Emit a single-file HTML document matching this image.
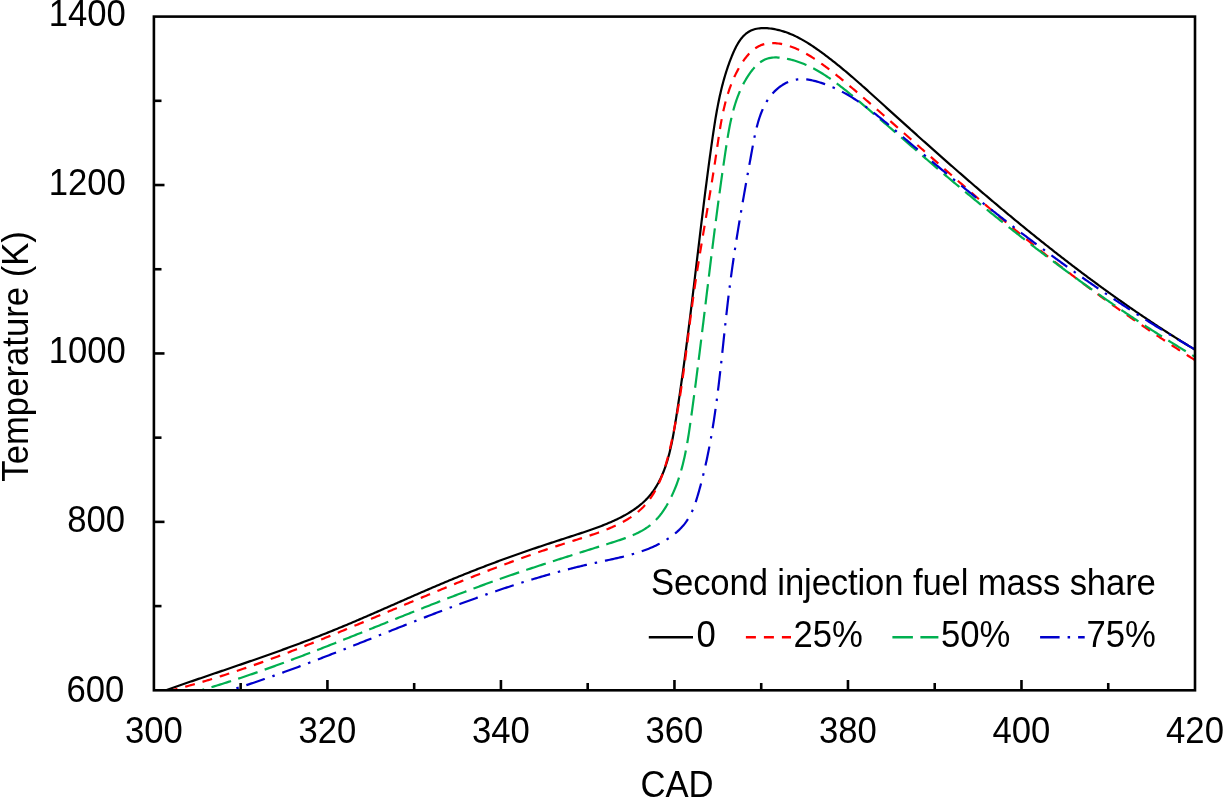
<!DOCTYPE html>
<html><head><meta charset="utf-8"><style>
html,body{margin:0;padding:0;background:#fff;width:1224px;height:798px;overflow:hidden}
svg{display:block}
text{font-family:"Liberation Sans",Arial,sans-serif;font-size:34.7px;fill:#000}
</style></head><body>
<svg width="1224" height="798" viewBox="0 0 1224 798">
<defs><clipPath id="pa"><rect x="153.9" y="16.6" width="1041.1" height="673.6999999999999"/></clipPath></defs>
<g clip-path="url(#pa)" fill="none" stroke-width="2.2" stroke-linejoin="round">
<path d="M149.66,695.93 L151.08,695.42 L152.49,694.92 L153.90,694.41 L155.31,693.91 L156.73,693.41 L158.14,692.91 L159.56,692.41 L160.97,691.91 L162.39,691.41 L163.80,690.91 L165.22,690.41 L166.63,689.92 L168.05,689.42 L169.46,688.93 L170.88,688.43 L172.30,687.94 L173.71,687.45 L175.13,686.96 L176.55,686.46 L177.96,685.97 L179.38,685.48 L180.80,684.99 L182.22,684.50 L183.64,684.01 L185.05,683.52 L186.47,683.04 L187.89,682.55 L189.31,682.06 L190.73,681.57 L192.15,681.09 L193.57,680.60 L194.98,680.12 L196.40,679.63 L197.82,679.14 L199.24,678.66 L200.66,678.17 L202.08,677.69 L203.50,677.20 L204.92,676.72 L206.34,676.24 L207.76,675.75 L209.18,675.27 L210.60,674.78 L212.02,674.30 L213.44,673.81 L214.86,673.33 L216.28,672.85 L217.70,672.36 L219.12,671.88 L220.54,671.39 L221.96,670.91 L223.38,670.42 L224.80,669.94 L226.21,669.45 L227.63,668.97 L229.05,668.48 L230.47,668.00 L231.89,667.51 L233.31,667.03 L234.73,666.54 L236.15,666.05 L237.57,665.56 L238.99,665.08 L240.40,664.59 L241.82,664.10 L243.24,663.61 L244.66,663.12 L246.08,662.63 L247.49,662.14 L248.91,661.65 L250.33,661.16 L251.74,660.67 L253.16,660.17 L254.58,659.68 L255.99,659.19 L257.41,658.69 L258.83,658.20 L260.24,657.70 L261.66,657.20 L263.07,656.70 L264.49,656.21 L265.90,655.71 L267.32,655.21 L268.73,654.71 L270.14,654.20 L271.56,653.70 L272.97,653.20 L274.38,652.69 L275.79,652.19 L277.21,651.68 L278.62,651.17 L280.03,650.67 L281.44,650.16 L282.85,649.65 L284.26,649.13 L285.67,648.62 L287.08,648.11 L288.49,647.59 L289.90,647.08 L291.30,646.56 L292.71,646.04 L294.12,645.52 L295.53,645.00 L296.93,644.48 L298.34,643.95 L299.74,643.43 L301.15,642.90 L302.55,642.37 L303.95,641.84 L305.36,641.31 L306.76,640.78 L308.16,640.25 L309.56,639.71 L310.96,639.18 L312.36,638.64 L313.76,638.10 L315.16,637.56 L316.56,637.02 L317.96,636.47 L319.36,635.93 L320.75,635.38 L322.15,634.83 L323.54,634.28 L324.94,633.73 L326.33,633.17 L327.72,632.62 L329.12,632.06 L330.51,631.50 L331.90,630.94 L333.29,630.37 L334.68,629.81 L336.07,629.24 L337.46,628.67 L338.84,628.10 L340.23,627.53 L341.62,626.96 L343.00,626.38 L344.39,625.80 L345.77,625.23 L347.15,624.65 L348.54,624.07 L349.92,623.48 L351.30,622.90 L352.68,622.32 L354.06,621.73 L355.44,621.14 L356.82,620.56 L358.20,619.97 L359.58,619.38 L360.96,618.78 L362.34,618.19 L363.72,617.60 L365.09,617.00 L366.47,616.41 L367.85,615.81 L369.22,615.22 L370.60,614.62 L371.98,614.02 L373.35,613.42 L374.73,612.82 L376.10,612.22 L377.47,611.62 L378.85,611.02 L380.22,610.42 L381.60,609.82 L382.97,609.22 L384.34,608.61 L385.72,608.01 L387.09,607.41 L388.46,606.80 L389.84,606.20 L391.21,605.60 L392.58,604.99 L393.96,604.39 L395.33,603.78 L396.70,603.18 L398.08,602.57 L399.45,601.97 L400.82,601.37 L402.19,600.76 L403.57,600.16 L404.94,599.55 L406.31,598.95 L407.69,598.35 L409.06,597.75 L410.43,597.14 L411.81,596.54 L413.18,595.94 L414.56,595.34 L415.93,594.74 L417.31,594.14 L418.68,593.54 L420.06,592.94 L421.43,592.34 L422.81,591.75 L424.19,591.15 L425.56,590.56 L426.94,589.96 L428.32,589.37 L429.69,588.77 L431.07,588.18 L432.45,587.59 L433.83,587.00 L435.21,586.41 L436.59,585.82 L437.97,585.24 L439.35,584.65 L440.73,584.07 L442.11,583.48 L443.50,582.90 L444.88,582.32 L446.26,581.74 L447.65,581.16 L449.03,580.59 L450.42,580.01 L451.80,579.44 L453.19,578.87 L454.58,578.30 L455.97,577.73 L457.36,577.16 L458.74,576.59 L460.13,576.03 L461.52,575.47 L462.92,574.90 L464.31,574.34 L465.70,573.79 L467.09,573.23 L468.48,572.67 L469.88,572.12 L471.27,571.57 L472.67,571.02 L474.06,570.47 L475.46,569.92 L476.86,569.37 L478.25,568.83 L479.65,568.28 L481.05,567.74 L482.45,567.20 L483.85,566.66 L485.25,566.12 L486.65,565.59 L488.05,565.05 L489.46,564.52 L490.86,563.99 L492.26,563.46 L493.67,562.93 L495.07,562.41 L496.48,561.88 L497.88,561.36 L499.29,560.84 L500.69,560.32 L502.10,559.80 L503.51,559.28 L504.92,558.77 L506.33,558.25 L507.74,557.74 L509.15,557.23 L510.56,556.72 L511.97,556.21 L513.38,555.71 L514.80,555.21 L516.21,554.71 L517.63,554.21 L519.04,553.71 L520.46,553.21 L521.87,552.72 L523.29,552.22 L524.71,551.73 L526.12,551.24 L527.54,550.76 L528.96,550.27 L530.38,549.78 L531.80,549.30 L533.22,548.82 L534.64,548.34 L536.06,547.86 L537.48,547.38 L538.91,546.90 L540.33,546.43 L541.75,545.95 L543.18,545.48 L544.60,545.01 L546.02,544.53 L547.45,544.06 L548.87,543.59 L550.30,543.12 L551.72,542.66 L553.15,542.19 L554.57,541.72 L556.00,541.26 L557.42,540.79 L558.85,540.33 L560.28,539.86 L561.70,539.40 L563.13,538.93 L564.56,538.47 L565.98,538.01 L567.41,537.54 L568.84,537.08 L570.26,536.62 L571.69,536.16 L573.12,535.69 L574.54,535.23 L575.97,534.77 L577.40,534.30 L578.82,533.84 L580.25,533.37 L581.67,532.90 L583.10,532.43 L584.52,531.95 L585.94,531.48 L587.36,530.99 L588.78,530.51 L590.20,530.02 L591.62,529.53 L593.03,529.03 L594.44,528.52 L595.85,528.01 L597.26,527.50 L598.67,526.98 L600.07,526.45 L601.47,525.91 L602.87,525.37 L604.27,524.82 L605.66,524.26 L607.05,523.69 L608.43,523.11 L609.81,522.53 L611.19,521.93 L612.56,521.33 L613.93,520.71 L615.29,520.08 L616.65,519.44 L618.00,518.79 L619.34,518.13 L620.68,517.45 L622.01,516.76 L623.34,516.05 L624.66,515.34 L625.96,514.60 L627.26,513.85 L628.55,513.09 L629.83,512.31 L631.10,511.51 L632.36,510.69 L633.61,509.86 L634.84,509.01 L636.06,508.13 L637.27,507.24 L638.46,506.33 L639.64,505.40 L640.80,504.45 L641.94,503.48 L643.06,502.48 L644.16,501.46 L645.24,500.42 L646.30,499.36 L647.34,498.28 L648.35,497.17 L649.34,496.04 L650.30,494.89 L651.24,493.72 L652.15,492.53 L653.04,491.32 L653.90,490.09 L654.74,488.85 L655.55,487.59 L656.34,486.31 L657.11,485.02 L657.86,483.72 L658.58,482.41 L659.28,481.08 L659.95,479.74 L660.61,478.39 L661.25,477.03 L661.86,475.67 L662.46,474.29 L663.04,472.91 L663.60,471.51 L664.14,470.12 L664.66,468.71 L665.17,467.30 L665.66,465.88 L666.14,464.46 L666.60,463.03 L667.04,461.60 L667.48,460.16 L667.90,458.72 L668.30,457.28 L668.70,455.83 L669.08,454.38 L669.45,452.93 L669.81,451.47 L670.16,450.01 L670.50,448.55 L670.83,447.09 L671.16,445.63 L671.47,444.16 L671.78,442.69 L672.08,441.22 L672.37,439.75 L672.65,438.28 L672.93,436.80 L673.21,435.33 L673.47,433.85 L673.74,432.38 L673.99,430.90 L674.25,429.42 L674.50,427.94 L674.74,426.46 L674.99,424.98 L675.23,423.50 L675.46,422.02 L675.70,420.54 L675.94,419.06 L676.17,417.57 L676.40,416.09 L676.63,414.61 L676.86,413.13 L677.09,411.65 L677.32,410.16 L677.55,408.68 L677.78,407.20 L678.00,405.72 L678.23,404.23 L678.45,402.75 L678.68,401.27 L678.90,399.78 L679.12,398.30 L679.34,396.81 L679.56,395.33 L679.78,393.85 L680.00,392.36 L680.21,390.88 L680.43,389.39 L680.64,387.91 L680.86,386.43 L681.07,384.94 L681.29,383.46 L681.50,381.97 L681.71,380.49 L681.92,379.00 L682.13,377.52 L682.34,376.03 L682.55,374.54 L682.75,373.06 L682.96,371.57 L683.16,370.09 L683.37,368.60 L683.57,367.12 L683.78,365.63 L683.98,364.14 L684.18,362.66 L684.38,361.17 L684.59,359.68 L684.79,358.20 L684.98,356.71 L685.18,355.22 L685.38,353.74 L685.58,352.25 L685.78,350.76 L685.97,349.28 L686.17,347.79 L686.36,346.30 L686.56,344.81 L686.75,343.33 L686.94,341.84 L687.14,340.35 L687.33,338.86 L687.52,337.38 L687.71,335.89 L687.90,334.40 L688.09,332.91 L688.28,331.42 L688.47,329.94 L688.66,328.45 L688.85,326.96 L689.04,325.47 L689.22,323.98 L689.41,322.50 L689.60,321.01 L689.78,319.52 L689.97,318.03 L690.15,316.54 L690.34,315.05 L690.52,313.56 L690.71,312.08 L690.89,310.59 L691.07,309.10 L691.26,307.61 L691.44,306.12 L691.62,304.63 L691.80,303.14 L691.98,301.65 L692.16,300.16 L692.35,298.68 L692.53,297.19 L692.71,295.70 L692.89,294.21 L693.07,292.72 L693.25,291.23 L693.43,289.74 L693.61,288.25 L693.79,286.76 L693.96,285.27 L694.14,283.78 L694.32,282.29 L694.50,280.81 L694.68,279.32 L694.86,277.83 L695.03,276.34 L695.21,274.85 L695.39,273.36 L695.57,271.87 L695.75,270.38 L695.92,268.89 L696.10,267.40 L696.28,265.91 L696.46,264.42 L696.63,262.93 L696.81,261.44 L696.99,259.95 L697.17,258.46 L697.34,256.97 L697.52,255.48 L697.70,254.00 L697.88,252.51 L698.05,251.02 L698.23,249.53 L698.41,248.04 L698.59,246.55 L698.76,245.06 L698.94,243.57 L699.12,242.08 L699.30,240.59 L699.48,239.10 L699.66,237.61 L699.83,236.12 L700.01,234.63 L700.19,233.14 L700.37,231.65 L700.55,230.17 L700.73,228.68 L700.91,227.19 L701.09,225.70 L701.27,224.21 L701.45,222.72 L701.63,221.23 L701.82,219.74 L702.00,218.25 L702.18,216.76 L702.36,215.28 L702.54,213.79 L702.73,212.30 L702.91,210.81 L703.09,209.32 L703.28,207.83 L703.46,206.34 L703.65,204.85 L703.83,203.37 L704.02,201.88 L704.20,200.39 L704.39,198.90 L704.58,197.41 L704.76,195.92 L704.95,194.44 L705.14,192.95 L705.33,191.46 L705.52,189.97 L705.71,188.48 L705.90,187.00 L706.09,185.51 L706.28,184.02 L706.47,182.53 L706.67,181.04 L706.86,179.56 L707.05,178.07 L707.25,176.58 L707.44,175.10 L707.64,173.61 L707.83,172.12 L708.03,170.63 L708.23,169.15 L708.43,167.66 L708.62,166.17 L708.82,164.69 L709.02,163.20 L709.22,161.71 L709.43,160.23 L709.63,158.74 L709.83,157.25 L710.03,155.77 L710.24,154.28 L710.44,152.80 L710.65,151.31 L710.86,149.82 L711.06,148.34 L711.27,146.85 L711.48,145.37 L711.69,143.88 L711.90,142.40 L712.11,140.91 L712.32,139.43 L712.54,137.94 L712.75,136.46 L712.97,134.97 L713.19,133.49 L713.40,132.01 L713.63,130.52 L713.85,129.04 L714.07,127.56 L714.30,126.07 L714.53,124.59 L714.77,123.11 L715.00,121.63 L715.24,120.15 L715.48,118.67 L715.73,117.19 L715.98,115.71 L716.24,114.23 L716.50,112.75 L716.76,111.28 L717.03,109.80 L717.30,108.33 L717.58,106.85 L717.86,105.38 L718.15,103.91 L718.44,102.44 L718.74,100.97 L719.04,99.50 L719.36,98.03 L719.67,96.56 L720.00,95.10 L720.33,93.64 L720.66,92.17 L721.01,90.71 L721.36,89.25 L721.71,87.80 L722.08,86.34 L722.45,84.89 L722.83,83.44 L723.22,81.99 L723.62,80.54 L724.02,79.10 L724.44,77.66 L724.86,76.22 L725.29,74.78 L725.73,73.35 L726.18,71.92 L726.63,70.49 L727.10,69.06 L727.58,67.64 L728.06,66.22 L728.56,64.80 L729.06,63.39 L729.58,61.98 L730.10,60.58 L730.64,59.18 L731.18,57.78 L731.74,56.39 L732.31,55.00 L732.89,53.61 L733.48,52.24 L734.10,50.87 L734.73,49.51 L735.38,48.16 L736.06,46.82 L736.77,45.50 L737.50,44.19 L738.27,42.90 L739.08,41.64 L739.92,40.39 L740.80,39.18 L741.73,38.00 L742.70,36.86 L743.73,35.77 L744.81,34.73 L745.94,33.74 L747.12,32.82 L748.36,31.98 L749.65,31.21 L750.99,30.53 L752.37,29.95 L753.78,29.45 L755.23,29.05 L756.69,28.72 L758.17,28.47 L759.66,28.29 L761.16,28.17 L762.65,28.11 L764.15,28.10 L765.65,28.14 L767.15,28.22 L768.65,28.35 L770.14,28.51 L771.63,28.71 L773.11,28.94 L774.58,29.20 L776.06,29.49 L777.52,29.81 L778.98,30.16 L780.43,30.54 L781.88,30.94 L783.31,31.38 L784.74,31.83 L786.16,32.32 L787.57,32.83 L788.97,33.36 L790.36,33.92 L791.75,34.50 L793.12,35.10 L794.49,35.72 L795.84,36.37 L797.19,37.03 L798.52,37.71 L799.85,38.41 L801.17,39.12 L802.48,39.85 L803.78,40.60 L805.07,41.36 L806.36,42.14 L807.64,42.92 L808.90,43.72 L810.17,44.53 L811.42,45.35 L812.67,46.18 L813.91,47.02 L815.15,47.87 L816.38,48.73 L817.61,49.59 L818.83,50.46 L820.05,51.34 L821.27,52.22 L822.48,53.10 L823.68,53.99 L824.89,54.89 L826.09,55.79 L827.28,56.69 L828.48,57.60 L829.67,58.51 L830.85,59.43 L832.04,60.35 L833.22,61.28 L834.39,62.21 L835.57,63.14 L836.74,64.08 L837.91,65.02 L839.07,65.96 L840.24,66.91 L841.40,67.86 L842.55,68.82 L843.71,69.78 L844.86,70.74 L846.01,71.70 L847.16,72.67 L848.30,73.64 L849.44,74.61 L850.58,75.58 L851.72,76.56 L852.86,77.54 L853.99,78.52 L855.12,79.50 L856.25,80.49 L857.38,81.48 L858.51,82.47 L859.63,83.46 L860.76,84.45 L861.88,85.45 L863.00,86.45 L864.12,87.44 L865.24,88.44 L866.36,89.44 L867.47,90.44 L868.59,91.45 L869.70,92.45 L870.82,93.46 L871.93,94.46 L873.04,95.47 L874.16,96.47 L875.27,97.48 L876.38,98.49 L877.49,99.50 L878.60,100.51 L879.71,101.51 L880.82,102.52 L881.93,103.53 L883.04,104.54 L884.15,105.55 L885.26,106.56 L886.37,107.56 L887.48,108.57 L888.60,109.58 L889.71,110.59 L890.82,111.59 L891.93,112.60 L893.04,113.61 L894.15,114.62 L895.27,115.62 L896.38,116.63 L897.49,117.63 L898.60,118.64 L899.72,119.64 L900.83,120.65 L901.94,121.65 L903.06,122.66 L904.17,123.66 L905.29,124.67 L906.40,125.67 L907.52,126.68 L908.63,127.68 L909.75,128.68 L910.86,129.69 L911.98,130.69 L913.09,131.69 L914.21,132.69 L915.33,133.69 L916.44,134.69 L917.56,135.70 L918.68,136.70 L919.80,137.70 L920.91,138.70 L922.03,139.70 L923.15,140.70 L924.27,141.69 L925.39,142.69 L926.51,143.69 L927.63,144.69 L928.75,145.69 L929.87,146.68 L930.99,147.68 L932.11,148.68 L933.23,149.67 L934.35,150.67 L935.48,151.66 L936.60,152.66 L937.72,153.65 L938.85,154.65 L939.97,155.64 L941.09,156.63 L942.22,157.63 L943.34,158.62 L944.47,159.61 L945.59,160.60 L946.72,161.59 L947.85,162.58 L948.97,163.57 L950.10,164.56 L951.23,165.55 L952.36,166.54 L953.48,167.53 L954.61,168.52 L955.74,169.51 L956.87,170.49 L958.00,171.48 L959.13,172.46 L960.26,173.45 L961.40,174.43 L962.53,175.42 L963.66,176.40 L964.79,177.38 L965.93,178.37 L967.06,179.35 L968.19,180.33 L969.33,181.31 L970.46,182.29 L971.60,183.27 L972.74,184.25 L973.87,185.23 L975.01,186.21 L976.15,187.19 L977.29,188.16 L978.42,189.14 L979.56,190.12 L980.70,191.09 L981.84,192.07 L982.98,193.04 L984.13,194.01 L985.27,194.99 L986.41,195.96 L987.55,196.93 L988.70,197.90 L989.84,198.87 L990.98,199.84 L992.13,200.81 L993.28,201.78 L994.42,202.75 L995.57,203.71 L996.72,204.68 L997.86,205.64 L999.01,206.61 L1000.16,207.57 L1001.31,208.54 L1002.46,209.50 L1003.61,210.46 L1004.76,211.42 L1005.91,212.38 L1007.07,213.34 L1008.22,214.30 L1009.37,215.26 L1010.53,216.22 L1011.68,217.18 L1012.84,218.13 L1014.00,219.09 L1015.15,220.04 L1016.31,221.00 L1017.47,221.95 L1018.63,222.90 L1019.79,223.85 L1020.95,224.81 L1022.11,225.76 L1023.27,226.70 L1024.43,227.65 L1025.59,228.60 L1026.76,229.55 L1027.92,230.49 L1029.09,231.44 L1030.25,232.38 L1031.42,233.33 L1032.58,234.27 L1033.75,235.21 L1034.92,236.15 L1036.09,237.09 L1037.26,238.03 L1038.43,238.97 L1039.60,239.91 L1040.77,240.84 L1041.94,241.78 L1043.12,242.71 L1044.29,243.65 L1045.46,244.58 L1046.64,245.51 L1047.82,246.44 L1048.99,247.37 L1050.17,248.30 L1051.35,249.23 L1052.53,250.16 L1053.71,251.09 L1054.89,252.01 L1056.07,252.94 L1057.25,253.86 L1058.43,254.78 L1059.62,255.70 L1060.80,256.63 L1061.99,257.54 L1063.17,258.46 L1064.36,259.38 L1065.55,260.30 L1066.73,261.21 L1067.92,262.13 L1069.11,263.04 L1070.30,263.95 L1071.49,264.87 L1072.69,265.78 L1073.88,266.69 L1075.07,267.59 L1076.27,268.50 L1077.46,269.41 L1078.66,270.31 L1079.85,271.22 L1081.05,272.12 L1082.25,273.02 L1083.45,273.92 L1084.65,274.82 L1085.85,275.72 L1087.05,276.62 L1088.26,277.52 L1089.46,278.41 L1090.66,279.30 L1091.87,280.20 L1093.08,281.09 L1094.28,281.98 L1095.49,282.87 L1096.70,283.76 L1097.91,284.65 L1099.12,285.53 L1100.33,286.42 L1101.54,287.30 L1102.75,288.18 L1103.97,289.06 L1105.18,289.94 L1106.40,290.82 L1107.62,291.70 L1108.83,292.58 L1110.05,293.45 L1111.27,294.33 L1112.49,295.20 L1113.71,296.07 L1114.93,296.94 L1116.16,297.81 L1117.38,298.68 L1118.60,299.54 L1119.83,300.41 L1121.06,301.27 L1122.28,302.13 L1123.51,303.00 L1124.74,303.86 L1125.97,304.71 L1127.20,305.57 L1128.43,306.43 L1129.66,307.28 L1130.90,308.14 L1132.13,308.99 L1133.37,309.84 L1134.61,310.69 L1135.84,311.54 L1137.08,312.38 L1138.32,313.23 L1139.56,314.07 L1140.80,314.91 L1142.04,315.75 L1143.29,316.59 L1144.53,317.43 L1145.78,318.27 L1147.02,319.10 L1148.27,319.94 L1149.52,320.77 L1150.76,321.60 L1152.01,322.43 L1153.27,323.26 L1154.52,324.08 L1155.77,324.91 L1157.02,325.73 L1158.28,326.56 L1159.53,327.38 L1160.79,328.20 L1162.05,329.01 L1163.31,329.83 L1164.57,330.64 L1165.83,331.46 L1167.09,332.27 L1168.35,333.08 L1169.61,333.89 L1170.88,334.70 L1172.14,335.50 L1173.41,336.30 L1174.68,337.11 L1175.94,337.91 L1177.21,338.71 L1178.48,339.50 L1179.76,340.30 L1181.03,341.10 L1182.30,341.89 L1183.58,342.68 L1184.85,343.47 L1186.13,344.26 L1187.40,345.04 L1188.68,345.83 L1189.96,346.61 L1191.24,347.39 L1192.52,348.17 L1193.81,348.95 L1195.09,349.73 L1196.37,350.50 L1197.66,351.28 L1198.95,352.05 L1200.23,352.82 L1201.52,353.58 L1202.81,354.35 L1204.10,355.12 L1205.20,355.77" stroke="#000000" />
<path d="M150.25,695.41 L151.71,695.08 L153.18,694.75 L154.64,694.42 L156.10,694.08 L157.56,693.74 L159.02,693.40 L160.48,693.06 L161.94,692.71 L163.40,692.36 L164.86,692.00 L166.31,691.65 L167.77,691.29 L169.23,690.93 L170.68,690.56 L172.14,690.19 L173.59,689.82 L175.04,689.45 L176.49,689.07 L177.94,688.69 L179.39,688.31 L180.84,687.92 L182.29,687.54 L183.74,687.14 L185.19,686.75 L186.64,686.36 L188.08,685.96 L189.53,685.56 L190.97,685.15 L192.42,684.75 L193.86,684.34 L195.30,683.93 L196.74,683.51 L198.19,683.10 L199.63,682.68 L201.07,682.26 L202.50,681.83 L203.94,681.41 L205.38,680.98 L206.82,680.55 L208.25,680.11 L209.69,679.68 L211.12,679.24 L212.56,678.80 L213.99,678.36 L215.42,677.91 L216.85,677.47 L218.29,677.02 L219.72,676.57 L221.15,676.11 L222.58,675.66 L224.00,675.20 L225.43,674.74 L226.86,674.28 L228.28,673.81 L229.71,673.35 L231.14,672.88 L232.56,672.41 L233.98,671.94 L235.41,671.46 L236.83,670.99 L238.25,670.51 L239.67,670.03 L241.09,669.55 L242.51,669.06 L243.93,668.58 L245.35,668.09 L246.77,667.60 L248.18,667.11 L249.60,666.62 L251.02,666.12 L252.43,665.62 L253.85,665.13 L255.26,664.63 L256.68,664.12 L258.09,663.62 L259.50,663.12 L260.91,662.61 L262.32,662.10 L263.73,661.59 L265.14,661.08 L266.55,660.57 L267.96,660.05 L269.37,659.53 L270.78,659.02 L272.19,658.50 L273.59,657.98 L275.00,657.45 L276.41,656.93 L277.81,656.41 L279.21,655.88 L280.62,655.35 L282.02,654.82 L283.43,654.29 L284.83,653.76 L286.23,653.23 L287.63,652.69 L289.03,652.16 L290.43,651.62 L291.83,651.08 L293.23,650.54 L294.63,650.00 L296.03,649.46 L297.43,648.92 L298.83,648.37 L300.22,647.83 L301.62,647.28 L303.02,646.73 L304.41,646.18 L305.81,645.63 L307.20,645.08 L308.60,644.53 L309.99,643.98 L311.39,643.42 L312.78,642.87 L314.17,642.31 L315.57,641.76 L316.96,641.20 L318.35,640.64 L319.74,640.08 L321.13,639.52 L322.53,638.96 L323.92,638.40 L325.31,637.83 L326.70,637.27 L328.09,636.71 L329.48,636.14 L330.87,635.57 L332.25,635.01 L333.64,634.44 L335.03,633.87 L336.42,633.30 L337.81,632.73 L339.19,632.16 L340.58,631.59 L341.97,631.02 L343.35,630.45 L344.74,629.88 L346.13,629.30 L347.51,628.73 L348.90,628.15 L350.28,627.58 L351.67,627.00 L353.05,626.43 L354.44,625.85 L355.82,625.27 L357.21,624.70 L358.59,624.12 L359.98,623.54 L361.36,622.96 L362.74,622.38 L364.13,621.81 L365.51,621.23 L366.89,620.65 L368.28,620.07 L369.66,619.49 L371.04,618.90 L372.43,618.32 L373.81,617.74 L375.19,617.16 L376.58,616.58 L377.96,616.00 L379.34,615.42 L380.72,614.83 L382.11,614.25 L383.49,613.67 L384.87,613.09 L386.25,612.50 L387.63,611.92 L389.02,611.34 L390.40,610.76 L391.78,610.17 L393.16,609.59 L394.55,609.01 L395.93,608.42 L397.31,607.84 L398.69,607.26 L400.07,606.68 L401.46,606.09 L402.84,605.51 L404.22,604.93 L405.60,604.35 L406.99,603.77 L408.37,603.18 L409.75,602.60 L411.13,602.02 L412.52,601.44 L413.90,600.86 L415.28,600.28 L416.67,599.70 L418.05,599.12 L419.43,598.54 L420.82,597.96 L422.20,597.38 L423.58,596.80 L424.97,596.22 L426.35,595.65 L427.74,595.07 L429.12,594.49 L430.51,593.92 L431.89,593.34 L433.28,592.76 L434.66,592.19 L436.05,591.62 L437.43,591.04 L438.82,590.47 L440.21,589.90 L441.59,589.32 L442.98,588.75 L444.37,588.18 L445.75,587.61 L447.14,587.04 L448.53,586.47 L449.92,585.90 L451.31,585.34 L452.70,584.77 L454.08,584.20 L455.47,583.64 L456.86,583.07 L458.25,582.51 L459.64,581.95 L461.04,581.39 L462.43,580.82 L463.82,580.26 L465.21,579.70 L466.60,579.15 L467.99,578.59 L469.39,578.03 L470.78,577.48 L472.17,576.92 L473.57,576.37 L474.96,575.82 L476.36,575.27 L477.75,574.71 L479.15,574.17 L480.55,573.62 L481.94,573.07 L483.34,572.52 L484.74,571.98 L486.13,571.44 L487.53,570.89 L488.93,570.35 L490.33,569.81 L491.73,569.27 L493.13,568.74 L494.53,568.20 L495.93,567.67 L497.34,567.13 L498.74,566.60 L500.14,566.07 L501.55,565.54 L502.95,565.01 L504.35,564.48 L505.76,563.96 L507.16,563.44 L508.57,562.91 L509.98,562.39 L511.38,561.87 L512.79,561.35 L514.20,560.84 L515.61,560.32 L517.02,559.81 L518.43,559.30 L519.84,558.78 L521.25,558.28 L522.66,557.77 L524.07,557.26 L525.49,556.76 L526.90,556.25 L528.31,555.75 L529.73,555.25 L531.14,554.76 L532.56,554.26 L533.97,553.76 L535.39,553.27 L536.81,552.78 L538.22,552.29 L539.64,551.80 L541.06,551.32 L542.48,550.83 L543.90,550.35 L545.32,549.87 L546.74,549.39 L548.16,548.91 L549.59,548.43 L551.01,547.96 L552.43,547.48 L553.86,547.01 L555.28,546.54 L556.71,546.08 L558.13,545.61 L559.56,545.15 L560.99,544.69 L562.41,544.22 L563.84,543.77 L565.27,543.31 L566.70,542.85 L568.13,542.40 L569.56,541.95 L570.99,541.50 L572.42,541.05 L573.86,540.60 L575.29,540.16 L576.72,539.71 L578.15,539.26 L579.58,538.81 L581.01,538.36 L582.44,537.91 L583.87,537.45 L585.30,537.00 L586.73,536.54 L588.15,536.07 L589.58,535.61 L591.00,535.13 L592.43,534.66 L593.85,534.18 L595.27,533.69 L596.68,533.19 L598.10,532.69 L599.51,532.19 L600.92,531.67 L602.32,531.15 L603.72,530.62 L605.12,530.08 L606.52,529.53 L607.91,528.96 L609.30,528.39 L610.68,527.81 L612.06,527.22 L613.43,526.61 L614.80,525.99 L616.16,525.36 L617.51,524.71 L618.86,524.05 L620.19,523.38 L621.53,522.69 L622.85,521.98 L624.16,521.25 L625.47,520.51 L626.76,519.75 L628.04,518.97 L629.31,518.17 L630.57,517.36 L631.81,516.52 L633.04,515.66 L634.26,514.78 L635.46,513.88 L636.64,512.95 L637.80,512.01 L638.95,511.04 L640.07,510.05 L641.18,509.03 L642.26,507.99 L643.32,506.93 L644.35,505.85 L645.36,504.74 L646.35,503.60 L647.30,502.45 L648.24,501.28 L649.15,500.08 L650.03,498.87 L650.89,497.64 L651.73,496.40 L652.54,495.14 L653.33,493.86 L654.10,492.57 L654.84,491.27 L655.56,489.96 L656.27,488.63 L656.95,487.30 L657.62,485.95 L658.26,484.60 L658.89,483.23 L659.50,481.86 L660.09,480.49 L660.67,479.10 L661.23,477.71 L661.77,476.31 L662.30,474.91 L662.82,473.50 L663.32,472.09 L663.81,470.67 L664.28,469.25 L664.75,467.82 L665.20,466.39 L665.64,464.96 L666.07,463.52 L666.49,462.08 L666.90,460.64 L667.30,459.19 L667.70,457.74 L668.08,456.29 L668.46,454.84 L668.83,453.39 L669.19,451.93 L669.55,450.47 L669.89,449.02 L670.24,447.56 L670.58,446.09 L670.91,444.63 L671.24,443.17 L671.56,441.70 L671.88,440.24 L672.20,438.77 L672.51,437.30 L672.82,435.84 L673.13,434.37 L673.43,432.90 L673.73,431.43 L674.03,429.96 L674.32,428.49 L674.61,427.02 L674.90,425.54 L675.18,424.07 L675.46,422.60 L675.74,421.12 L676.01,419.65 L676.29,418.17 L676.55,416.70 L676.82,415.22 L677.08,413.75 L677.35,412.27 L677.60,410.79 L677.86,409.31 L678.11,407.83 L678.36,406.36 L678.61,404.88 L678.85,403.40 L679.10,401.92 L679.34,400.44 L679.57,398.95 L679.81,397.47 L680.04,395.99 L680.27,394.51 L680.50,393.03 L680.73,391.54 L680.95,390.06 L681.18,388.58 L681.40,387.09 L681.62,385.61 L681.83,384.13 L682.05,382.64 L682.26,381.16 L682.47,379.67 L682.68,378.19 L682.89,376.70 L683.10,375.22 L683.31,373.73 L683.51,372.24 L683.71,370.76 L683.91,369.27 L684.12,367.78 L684.31,366.30 L684.51,364.81 L684.71,363.32 L684.90,361.84 L685.10,360.35 L685.29,358.86 L685.49,357.37 L685.68,355.89 L685.87,354.40 L686.06,352.91 L686.25,351.42 L686.44,349.94 L686.63,348.45 L686.82,346.96 L687.01,345.47 L687.20,343.98 L687.38,342.49 L687.57,341.01 L687.76,339.52 L687.94,338.03 L688.13,336.54 L688.32,335.05 L688.51,333.56 L688.69,332.08 L688.88,330.59 L689.07,329.10 L689.26,327.61 L689.44,326.12 L689.63,324.64 L689.82,323.15 L690.01,321.66 L690.20,320.17 L690.39,318.68 L690.59,317.20 L690.78,315.71 L690.97,314.22 L691.17,312.73 L691.36,311.25 L691.56,309.76 L691.75,308.27 L691.95,306.79 L692.15,305.30 L692.35,303.81 L692.55,302.33 L692.76,300.84 L692.96,299.35 L693.17,297.87 L693.38,296.38 L693.59,294.90 L693.80,293.41 L694.01,291.93 L694.22,290.44 L694.44,288.96 L694.66,287.47 L694.87,285.99 L695.09,284.51 L695.32,283.02 L695.54,281.54 L695.76,280.06 L695.99,278.57 L696.21,277.09 L696.44,275.61 L696.67,274.13 L696.90,272.64 L697.13,271.16 L697.36,269.68 L697.59,268.20 L697.83,266.72 L698.06,265.23 L698.30,263.75 L698.54,262.27 L698.77,260.79 L699.01,259.31 L699.25,257.83 L699.49,256.35 L699.73,254.87 L699.97,253.39 L700.22,251.91 L700.46,250.43 L700.70,248.95 L700.95,247.47 L701.19,245.99 L701.44,244.51 L701.68,243.03 L701.93,241.55 L702.18,240.07 L702.42,238.59 L702.67,237.11 L702.92,235.63 L703.17,234.15 L703.41,232.67 L703.66,231.19 L703.91,229.71 L704.16,228.23 L704.41,226.75 L704.66,225.27 L704.91,223.80 L705.16,222.32 L705.41,220.84 L705.66,219.36 L705.91,217.88 L706.16,216.40 L706.41,214.92 L706.65,213.44 L706.90,211.96 L707.15,210.48 L707.40,209.00 L707.65,207.52 L707.90,206.05 L708.15,204.57 L708.39,203.09 L708.64,201.61 L708.89,200.13 L709.13,198.65 L709.38,197.17 L709.63,195.69 L709.87,194.21 L710.12,192.73 L710.36,191.25 L710.60,189.77 L710.85,188.29 L711.09,186.81 L711.33,185.33 L711.57,183.85 L711.81,182.37 L712.05,180.89 L712.29,179.40 L712.53,177.92 L712.76,176.44 L713.00,174.96 L713.23,173.48 L713.47,172.00 L713.70,170.52 L713.93,169.03 L714.16,167.55 L714.39,166.07 L714.62,164.59 L714.85,163.11 L715.08,161.62 L715.30,160.14 L715.53,158.66 L715.75,157.17 L715.97,155.69 L716.19,154.21 L716.41,152.72 L716.63,151.24 L716.85,149.75 L717.06,148.27 L717.28,146.78 L717.49,145.30 L717.71,143.82 L717.93,142.33 L718.15,140.85 L718.37,139.36 L718.59,137.88 L718.81,136.40 L719.04,134.91 L719.27,133.43 L719.50,131.95 L719.74,130.47 L719.98,128.99 L720.22,127.51 L720.47,126.03 L720.72,124.55 L720.98,123.07 L721.25,121.60 L721.52,120.12 L721.80,118.65 L722.08,117.18 L722.37,115.70 L722.67,114.23 L722.98,112.77 L723.30,111.30 L723.62,109.83 L723.95,108.37 L724.30,106.91 L724.65,105.45 L725.01,104.00 L725.38,102.55 L725.77,101.10 L726.16,99.65 L726.57,98.20 L726.99,96.76 L727.42,95.33 L727.86,93.89 L728.32,92.47 L728.79,91.04 L729.27,89.62 L729.77,88.21 L730.28,86.80 L730.81,85.39 L731.35,83.99 L731.90,82.60 L732.47,81.21 L733.06,79.83 L733.67,78.46 L734.28,77.09 L734.92,75.73 L735.57,74.38 L736.24,73.04 L736.93,71.71 L737.63,70.38 L738.35,69.06 L739.08,67.76 L739.84,66.46 L740.61,65.17 L741.40,63.90 L742.21,62.64 L743.04,61.39 L743.90,60.16 L744.78,58.94 L745.69,57.75 L746.62,56.58 L747.59,55.43 L748.58,54.30 L749.61,53.21 L750.67,52.15 L751.77,51.13 L752.90,50.15 L754.07,49.21 L755.28,48.32 L756.53,47.49 L757.82,46.72 L759.14,46.02 L760.50,45.39 L761.90,44.84 L763.32,44.36 L764.77,43.98 L766.24,43.66 L767.72,43.43 L769.21,43.26 L770.71,43.16 L772.20,43.12 L773.70,43.14 L775.20,43.21 L776.70,43.33 L778.19,43.49 L779.67,43.70 L781.15,43.95 L782.62,44.24 L784.09,44.57 L785.54,44.93 L786.99,45.33 L788.43,45.76 L789.86,46.22 L791.27,46.71 L792.68,47.23 L794.08,47.77 L795.46,48.34 L796.84,48.94 L798.21,49.56 L799.56,50.20 L800.91,50.86 L802.24,51.55 L803.57,52.25 L804.89,52.97 L806.19,53.70 L807.49,54.45 L808.78,55.22 L810.06,56.00 L811.34,56.79 L812.60,57.59 L813.86,58.41 L815.11,59.24 L816.36,60.08 L817.59,60.93 L818.83,61.78 L820.05,62.65 L821.27,63.52 L822.49,64.40 L823.70,65.28 L824.90,66.18 L826.11,67.07 L827.30,67.97 L828.50,68.88 L829.69,69.79 L830.88,70.71 L832.07,71.62 L833.25,72.55 L834.43,73.48 L835.60,74.41 L836.78,75.34 L837.95,76.28 L839.11,77.22 L840.28,78.17 L841.44,79.12 L842.60,80.07 L843.76,81.02 L844.91,81.98 L846.06,82.94 L847.21,83.90 L848.36,84.87 L849.51,85.83 L850.66,86.80 L851.80,87.77 L852.94,88.74 L854.09,89.71 L855.23,90.69 L856.37,91.66 L857.51,92.64 L858.65,93.61 L859.79,94.59 L860.92,95.57 L862.06,96.55 L863.20,97.52 L864.33,98.50 L865.47,99.48 L866.60,100.46 L867.74,101.44 L868.87,102.43 L870.01,103.41 L871.14,104.39 L872.27,105.37 L873.41,106.36 L874.54,107.34 L875.67,108.32 L876.80,109.31 L877.93,110.29 L879.06,111.28 L880.19,112.27 L881.32,113.25 L882.45,114.24 L883.58,115.23 L884.71,116.22 L885.84,117.20 L886.97,118.19 L888.10,119.18 L889.22,120.17 L890.35,121.16 L891.48,122.15 L892.60,123.14 L893.73,124.13 L894.86,125.12 L895.98,126.11 L897.11,127.10 L898.23,128.10 L899.36,129.09 L900.48,130.08 L901.61,131.07 L902.73,132.07 L903.86,133.06 L904.98,134.05 L906.11,135.04 L907.23,136.04 L908.35,137.03 L909.48,138.02 L910.60,139.02 L911.73,140.01 L912.85,141.01 L913.97,142.00 L915.10,142.99 L916.22,143.99 L917.34,144.98 L918.46,145.98 L919.59,146.97 L920.71,147.97 L921.83,148.96 L922.96,149.95 L924.08,150.95 L925.20,151.94 L926.33,152.94 L927.45,153.93 L928.57,154.93 L929.70,155.92 L930.82,156.91 L931.94,157.91 L933.07,158.90 L934.19,159.90 L935.31,160.89 L936.44,161.88 L937.56,162.88 L938.68,163.87 L939.81,164.86 L940.93,165.86 L942.06,166.85 L943.18,167.84 L944.30,168.84 L945.43,169.83 L946.55,170.82 L947.68,171.81 L948.80,172.80 L949.93,173.80 L951.06,174.79 L952.18,175.78 L953.31,176.77 L954.44,177.76 L955.56,178.75 L956.69,179.74 L957.82,180.73 L958.94,181.72 L960.07,182.71 L961.20,183.69 L962.33,184.68 L963.46,185.67 L964.59,186.66 L965.72,187.64 L966.85,188.63 L967.98,189.62 L969.11,190.60 L970.24,191.59 L971.37,192.57 L972.50,193.56 L973.63,194.54 L974.77,195.53 L975.90,196.51 L977.03,197.49 L978.17,198.47 L979.30,199.45 L980.44,200.43 L981.57,201.41 L982.71,202.39 L983.84,203.37 L984.98,204.35 L986.12,205.33 L987.26,206.31 L988.39,207.28 L989.53,208.26 L990.67,209.24 L991.81,210.21 L992.95,211.19 L994.09,212.16 L995.24,213.13 L996.38,214.10 L997.52,215.08 L998.66,216.05 L999.81,217.02 L1000.95,217.99 L1002.10,218.95 L1003.24,219.92 L1004.39,220.89 L1005.54,221.86 L1006.69,222.82 L1007.83,223.79 L1008.98,224.75 L1010.13,225.71 L1011.28,226.68 L1012.44,227.64 L1013.59,228.60 L1014.74,229.56 L1015.89,230.52 L1017.05,231.47 L1018.20,232.43 L1019.36,233.39 L1020.52,234.34 L1021.67,235.30 L1022.83,236.25 L1023.99,237.20 L1025.15,238.15 L1026.31,239.10 L1027.47,240.05 L1028.63,241.00 L1029.80,241.95 L1030.96,242.89 L1032.13,243.84 L1033.29,244.78 L1034.46,245.73 L1035.63,246.67 L1036.79,247.61 L1037.96,248.55 L1039.13,249.49 L1040.30,250.43 L1041.48,251.36 L1042.65,252.30 L1043.82,253.23 L1045.00,254.16 L1046.17,255.10 L1047.35,256.03 L1048.53,256.96 L1049.70,257.88 L1050.88,258.81 L1052.06,259.74 L1053.24,260.66 L1054.43,261.59 L1055.61,262.51 L1056.79,263.43 L1057.98,264.35 L1059.16,265.27 L1060.35,266.19 L1061.54,267.10 L1062.72,268.02 L1063.91,268.93 L1065.10,269.85 L1066.29,270.76 L1067.48,271.67 L1068.68,272.58 L1069.87,273.49 L1071.06,274.40 L1072.26,275.31 L1073.45,276.21 L1074.65,277.12 L1075.85,278.02 L1077.05,278.92 L1078.25,279.82 L1079.45,280.72 L1080.65,281.62 L1081.85,282.52 L1083.05,283.42 L1084.25,284.31 L1085.46,285.21 L1086.66,286.10 L1087.87,286.99 L1089.08,287.88 L1090.28,288.77 L1091.49,289.66 L1092.70,290.55 L1093.91,291.44 L1095.12,292.32 L1096.33,293.21 L1097.54,294.09 L1098.76,294.97 L1099.97,295.86 L1101.19,296.74 L1102.40,297.61 L1103.62,298.49 L1104.83,299.37 L1106.05,300.25 L1107.27,301.12 L1108.49,301.99 L1109.71,302.87 L1110.93,303.74 L1112.15,304.61 L1113.37,305.48 L1114.60,306.35 L1115.82,307.21 L1117.05,308.08 L1118.27,308.94 L1119.50,309.81 L1120.72,310.67 L1121.95,311.53 L1123.18,312.39 L1124.41,313.25 L1125.64,314.11 L1126.87,314.97 L1128.10,315.83 L1129.33,316.68 L1130.57,317.54 L1131.80,318.39 L1133.04,319.24 L1134.27,320.09 L1135.51,320.94 L1136.74,321.79 L1137.98,322.64 L1139.22,323.49 L1140.46,324.33 L1141.70,325.18 L1142.94,326.02 L1144.18,326.86 L1145.42,327.71 L1146.66,328.55 L1147.90,329.39 L1149.15,330.22 L1150.39,331.06 L1151.64,331.90 L1152.88,332.73 L1154.13,333.57 L1155.38,334.40 L1156.62,335.24 L1157.87,336.07 L1159.12,336.90 L1160.37,337.73 L1161.62,338.55 L1162.87,339.38 L1164.12,340.21 L1165.38,341.03 L1166.63,341.86 L1167.88,342.68 L1169.14,343.50 L1170.39,344.33 L1171.65,345.15 L1172.91,345.97 L1174.16,346.78 L1175.42,347.60 L1176.68,348.42 L1177.94,349.23 L1179.20,350.05 L1180.46,350.86 L1181.72,351.67 L1182.98,352.48 L1184.24,353.29 L1185.51,354.10 L1186.77,354.91 L1188.03,355.72 L1189.30,356.53 L1190.56,357.33 L1191.83,358.14 L1193.10,358.94 L1194.36,359.74 L1195.63,360.54 L1196.90,361.35 L1198.17,362.15 L1199.44,362.94 L1200.71,363.74 L1201.98,364.54 L1203.25,365.33 L1204.52,366.13 L1204.84,366.33" stroke="#FF0000" stroke-dasharray="10 8"/>
<path d="M184.58,694.93 L186.02,694.54 L187.47,694.14 L188.92,693.74 L190.36,693.34 L191.81,692.93 L193.25,692.53 L194.69,692.12 L196.14,691.71 L197.58,691.29 L199.02,690.88 L200.46,690.46 L201.90,690.04 L203.34,689.62 L204.78,689.20 L206.22,688.77 L207.65,688.34 L209.09,687.91 L210.53,687.48 L211.96,687.04 L213.40,686.61 L214.83,686.17 L216.27,685.73 L217.70,685.28 L219.13,684.84 L220.56,684.39 L221.99,683.94 L223.42,683.49 L224.85,683.04 L226.28,682.58 L227.71,682.13 L229.14,681.67 L230.57,681.21 L232.00,680.74 L233.42,680.28 L234.85,679.81 L236.27,679.35 L237.70,678.88 L239.12,678.40 L240.55,677.93 L241.97,677.46 L243.39,676.98 L244.81,676.50 L246.23,676.02 L247.65,675.54 L249.07,675.06 L250.49,674.57 L251.91,674.09 L253.33,673.60 L254.75,673.11 L256.17,672.62 L257.58,672.13 L259.00,671.63 L260.41,671.14 L261.83,670.64 L263.24,670.14 L264.66,669.64 L266.07,669.14 L267.49,668.64 L268.90,668.13 L270.31,667.63 L271.72,667.12 L273.13,666.61 L274.54,666.10 L275.95,665.59 L277.36,665.08 L278.77,664.56 L280.18,664.05 L281.59,663.53 L283.00,663.02 L284.41,662.50 L285.81,661.98 L287.22,661.46 L288.63,660.94 L290.03,660.41 L291.44,659.89 L292.84,659.36 L294.25,658.84 L295.65,658.31 L297.06,657.78 L298.46,657.25 L299.86,656.72 L301.27,656.19 L302.67,655.66 L304.07,655.12 L305.47,654.59 L306.87,654.05 L308.27,653.52 L309.67,652.98 L311.07,652.44 L312.47,651.91 L313.87,651.37 L315.27,650.83 L316.67,650.28 L318.07,649.74 L319.47,649.20 L320.87,648.66 L322.27,648.11 L323.66,647.57 L325.06,647.02 L326.46,646.48 L327.85,645.93 L329.25,645.38 L330.65,644.83 L332.04,644.29 L333.44,643.74 L334.83,643.19 L336.23,642.64 L337.63,642.09 L339.02,641.53 L340.42,640.98 L341.81,640.43 L343.20,639.88 L344.60,639.32 L345.99,638.77 L347.39,638.22 L348.78,637.66 L350.17,637.11 L351.57,636.55 L352.96,636.00 L354.35,635.44 L355.75,634.88 L357.14,634.33 L358.53,633.77 L359.92,633.21 L361.32,632.66 L362.71,632.10 L364.10,631.54 L365.49,630.98 L366.89,630.42 L368.28,629.87 L369.67,629.31 L371.06,628.75 L372.46,628.19 L373.85,627.63 L375.24,627.07 L376.63,626.51 L378.02,625.95 L379.42,625.40 L380.81,624.84 L382.20,624.28 L383.59,623.72 L384.98,623.16 L386.38,622.60 L387.77,622.04 L389.16,621.48 L390.55,620.93 L391.94,620.37 L393.34,619.81 L394.73,619.25 L396.12,618.69 L397.51,618.13 L398.91,617.58 L400.30,617.02 L401.69,616.46 L403.08,615.91 L404.48,615.35 L405.87,614.79 L407.26,614.24 L408.66,613.68 L410.05,613.13 L411.44,612.57 L412.84,612.02 L414.23,611.46 L415.63,610.91 L417.02,610.36 L418.41,609.80 L419.81,609.25 L421.20,608.70 L422.60,608.15 L423.99,607.60 L425.39,607.05 L426.78,606.50 L428.18,605.95 L429.58,605.40 L430.97,604.85 L432.37,604.30 L433.77,603.75 L435.16,603.21 L436.56,602.66 L437.96,602.12 L439.35,601.57 L440.75,601.03 L442.15,600.49 L443.55,599.94 L444.95,599.40 L446.35,598.86 L447.75,598.32 L449.15,597.78 L450.55,597.24 L451.95,596.71 L453.35,596.17 L454.75,595.63 L456.15,595.10 L457.55,594.56 L458.95,594.03 L460.36,593.50 L461.76,592.97 L463.16,592.44 L464.56,591.91 L465.97,591.38 L467.37,590.85 L468.78,590.32 L470.18,589.80 L471.59,589.27 L472.99,588.75 L474.40,588.23 L475.81,587.71 L477.21,587.19 L478.62,586.67 L480.03,586.15 L481.44,585.63 L482.84,585.12 L484.25,584.60 L485.66,584.09 L487.07,583.58 L488.48,583.07 L489.89,582.56 L491.31,582.05 L492.72,581.54 L494.13,581.04 L495.54,580.53 L496.96,580.03 L498.37,579.53 L499.78,579.03 L501.20,578.53 L502.61,578.03 L504.03,577.54 L505.45,577.05 L506.86,576.55 L508.28,576.06 L509.70,575.57 L511.12,575.08 L512.54,574.60 L513.95,574.11 L515.37,573.63 L516.79,573.14 L518.21,572.66 L519.63,572.18 L521.06,571.70 L522.48,571.22 L523.90,570.74 L525.32,570.27 L526.75,569.79 L528.17,569.32 L529.59,568.85 L531.02,568.37 L532.44,567.90 L533.86,567.43 L535.29,566.96 L536.71,566.50 L538.14,566.03 L539.57,565.56 L540.99,565.10 L542.42,564.63 L543.84,564.17 L545.27,563.71 L546.70,563.24 L548.13,562.78 L549.55,562.32 L550.98,561.86 L552.41,561.40 L553.84,560.95 L555.27,560.49 L556.69,560.03 L558.12,559.57 L559.55,559.12 L560.98,558.66 L562.41,558.21 L563.84,557.75 L565.27,557.30 L566.70,556.84 L568.13,556.39 L569.56,555.94 L570.99,555.48 L572.42,555.03 L573.85,554.58 L575.28,554.13 L576.71,553.68 L578.14,553.23 L579.57,552.77 L581.00,552.32 L582.43,551.87 L583.86,551.42 L585.29,550.97 L586.72,550.52 L588.16,550.07 L589.59,549.62 L591.02,549.17 L592.45,548.72 L593.88,548.27 L595.31,547.82 L596.74,547.37 L598.17,546.92 L599.60,546.47 L601.03,546.02 L602.46,545.57 L603.89,545.12 L605.32,544.66 L606.75,544.21 L608.18,543.76 L609.61,543.31 L611.05,542.86 L612.48,542.40 L613.90,541.95 L615.33,541.49 L616.76,541.03 L618.19,540.57 L619.61,540.10 L621.03,539.62 L622.45,539.13 L623.87,538.64 L625.28,538.13 L626.69,537.62 L628.09,537.09 L629.49,536.55 L630.88,535.99 L632.27,535.41 L633.65,534.82 L635.02,534.21 L636.38,533.59 L637.73,532.93 L639.07,532.26 L640.40,531.57 L641.72,530.85 L643.02,530.10 L644.30,529.33 L645.57,528.53 L646.82,527.70 L648.05,526.84 L649.26,525.95 L650.44,525.02 L651.60,524.07 L652.73,523.09 L653.84,522.07 L654.91,521.03 L655.96,519.96 L656.98,518.86 L657.98,517.74 L658.95,516.59 L659.90,515.43 L660.82,514.25 L661.72,513.05 L662.59,511.83 L663.45,510.59 L664.28,509.35 L665.09,508.09 L665.88,506.81 L666.66,505.53 L667.41,504.23 L668.15,502.92 L668.87,501.61 L669.57,500.28 L670.26,498.95 L670.93,497.61 L671.59,496.26 L672.23,494.90 L672.85,493.54 L673.47,492.17 L674.06,490.79 L674.65,489.41 L675.21,488.02 L675.77,486.63 L676.31,485.23 L676.84,483.83 L677.35,482.42 L677.85,481.00 L678.34,479.59 L678.82,478.16 L679.28,476.74 L679.73,475.31 L680.17,473.87 L680.60,472.44 L681.02,470.99 L681.43,469.55 L681.82,468.10 L682.21,466.65 L682.59,465.20 L682.95,463.75 L683.31,462.29 L683.66,460.83 L684.00,459.37 L684.33,457.91 L684.65,456.44 L684.96,454.98 L685.27,453.51 L685.57,452.04 L685.86,450.57 L686.14,449.09 L686.42,447.62 L686.69,446.14 L686.96,444.67 L687.22,443.19 L687.47,441.71 L687.72,440.23 L687.97,438.75 L688.21,437.27 L688.45,435.79 L688.68,434.31 L688.91,432.83 L689.13,431.34 L689.35,429.86 L689.57,428.38 L689.79,426.89 L690.00,425.41 L690.21,423.92 L690.42,422.44 L690.63,420.95 L690.84,419.47 L691.05,417.98 L691.25,416.49 L691.46,415.01 L691.66,413.52 L691.86,412.04 L692.07,410.55 L692.27,409.06 L692.47,407.58 L692.67,406.09 L692.87,404.61 L693.07,403.12 L693.27,401.63 L693.47,400.15 L693.67,398.66 L693.87,397.17 L694.07,395.68 L694.26,394.20 L694.46,392.71 L694.66,391.22 L694.85,389.74 L695.05,388.25 L695.24,386.76 L695.44,385.27 L695.63,383.79 L695.82,382.30 L696.01,380.81 L696.21,379.32 L696.40,377.84 L696.59,376.35 L696.78,374.86 L696.97,373.37 L697.16,371.88 L697.35,370.40 L697.54,368.91 L697.73,367.42 L697.92,365.93 L698.11,364.44 L698.29,362.96 L698.48,361.47 L698.67,359.98 L698.86,358.49 L699.04,357.00 L699.23,355.51 L699.41,354.03 L699.60,352.54 L699.78,351.05 L699.97,349.56 L700.15,348.07 L700.34,346.58 L700.52,345.09 L700.71,343.61 L700.89,342.12 L701.07,340.63 L701.26,339.14 L701.44,337.65 L701.62,336.16 L701.81,334.67 L701.99,333.18 L702.17,331.70 L702.35,330.21 L702.53,328.72 L702.72,327.23 L702.90,325.74 L703.08,324.25 L703.26,322.76 L703.44,321.27 L703.62,319.78 L703.80,318.29 L703.98,316.81 L704.17,315.32 L704.35,313.83 L704.53,312.34 L704.71,310.85 L704.89,309.36 L705.07,307.87 L705.25,306.38 L705.43,304.89 L705.61,303.40 L705.79,301.91 L705.97,300.43 L706.15,298.94 L706.33,297.45 L706.51,295.96 L706.69,294.47 L706.87,292.98 L707.05,291.49 L707.23,290.00 L707.42,288.51 L707.60,287.02 L707.78,285.53 L707.96,284.05 L708.14,282.56 L708.32,281.07 L708.50,279.58 L708.68,278.09 L708.86,276.60 L709.05,275.11 L709.23,273.62 L709.41,272.13 L709.59,270.65 L709.77,269.16 L709.96,267.67 L710.14,266.18 L710.32,264.69 L710.51,263.20 L710.69,261.71 L710.87,260.22 L711.06,258.73 L711.24,257.25 L711.43,255.76 L711.61,254.27 L711.80,252.78 L711.98,251.29 L712.17,249.80 L712.35,248.32 L712.54,246.83 L712.72,245.34 L712.91,243.85 L713.10,242.36 L713.29,240.87 L713.47,239.39 L713.66,237.90 L713.85,236.41 L714.04,234.92 L714.23,233.43 L714.42,231.94 L714.61,230.46 L714.80,228.97 L714.99,227.48 L715.18,225.99 L715.37,224.51 L715.56,223.02 L715.76,221.53 L715.95,220.04 L716.14,218.56 L716.34,217.07 L716.53,215.58 L716.73,214.09 L716.92,212.61 L717.12,211.12 L717.31,209.63 L717.51,208.15 L717.71,206.66 L717.91,205.17 L718.10,203.68 L718.30,202.20 L718.50,200.71 L718.70,199.22 L718.90,197.74 L719.11,196.25 L719.31,194.77 L719.51,193.28 L719.71,191.79 L719.92,190.31 L720.12,188.82 L720.33,187.33 L720.53,185.85 L720.74,184.36 L720.94,182.88 L721.15,181.39 L721.36,179.91 L721.57,178.42 L721.78,176.94 L721.99,175.45 L722.20,173.97 L722.41,172.48 L722.62,171.00 L722.84,169.51 L723.05,168.03 L723.26,166.54 L723.48,165.06 L723.70,163.57 L723.91,162.09 L724.13,160.60 L724.35,159.12 L724.57,157.64 L724.79,156.15 L725.01,154.67 L725.23,153.18 L725.45,151.70 L725.67,150.22 L725.90,148.73 L726.12,147.25 L726.35,145.77 L726.58,144.29 L726.81,142.80 L727.04,141.32 L727.28,139.84 L727.52,138.36 L727.76,136.88 L728.01,135.40 L728.26,133.92 L728.52,132.44 L728.78,130.97 L729.05,129.49 L729.33,128.02 L729.61,126.55 L729.90,125.07 L730.20,123.60 L730.50,122.13 L730.82,120.67 L731.14,119.20 L731.47,117.74 L731.82,116.28 L732.17,114.82 L732.53,113.37 L732.91,111.91 L733.29,110.47 L733.69,109.02 L734.10,107.58 L734.52,106.14 L734.96,104.70 L735.41,103.27 L735.88,101.85 L736.36,100.42 L736.85,99.01 L737.36,97.60 L737.89,96.19 L738.43,94.79 L738.99,93.40 L739.57,92.02 L740.16,90.64 L740.77,89.27 L741.40,87.91 L742.05,86.56 L742.72,85.21 L743.41,83.88 L744.11,82.56 L744.84,81.25 L745.59,79.94 L746.35,78.66 L747.14,77.38 L747.95,76.11 L748.77,74.86 L749.62,73.63 L750.50,72.41 L751.39,71.20 L752.32,70.02 L753.27,68.87 L754.26,67.74 L755.28,66.64 L756.34,65.57 L757.43,64.55 L758.57,63.57 L759.74,62.64 L760.96,61.76 L762.22,60.95 L763.53,60.22 L764.88,59.56 L766.27,58.99 L767.69,58.51 L769.14,58.13 L770.61,57.85 L772.10,57.65 L773.59,57.52 L775.09,57.46 L776.59,57.47 L778.09,57.53 L779.58,57.64 L781.08,57.80 L782.56,57.99 L784.05,58.22 L785.52,58.47 L787.00,58.76 L788.46,59.07 L789.93,59.40 L791.38,59.76 L792.83,60.15 L794.27,60.56 L795.71,61.00 L797.14,61.46 L798.56,61.94 L799.97,62.44 L801.38,62.97 L802.77,63.51 L804.16,64.08 L805.54,64.66 L806.92,65.27 L808.28,65.89 L809.64,66.54 L810.98,67.19 L812.32,67.87 L813.65,68.56 L814.98,69.27 L816.29,69.99 L817.60,70.73 L818.90,71.48 L820.19,72.24 L821.47,73.02 L822.75,73.80 L824.02,74.60 L825.28,75.42 L826.53,76.24 L827.78,77.07 L829.02,77.91 L830.26,78.76 L831.49,79.62 L832.71,80.49 L833.93,81.37 L835.14,82.25 L836.35,83.14 L837.55,84.04 L838.75,84.94 L839.94,85.85 L841.13,86.77 L842.31,87.69 L843.49,88.62 L844.66,89.55 L845.84,90.48 L847.01,91.42 L848.17,92.37 L849.34,93.31 L850.50,94.26 L851.66,95.22 L852.81,96.17 L853.97,97.13 L855.12,98.09 L856.27,99.05 L857.43,100.01 L858.58,100.97 L859.73,101.93 L860.87,102.90 L862.02,103.86 L863.17,104.83 L864.32,105.79 L865.47,106.76 L866.61,107.73 L867.76,108.70 L868.90,109.67 L870.05,110.64 L871.19,111.61 L872.33,112.58 L873.47,113.55 L874.62,114.52 L875.76,115.50 L876.90,116.47 L878.04,117.44 L879.18,118.42 L880.32,119.39 L881.46,120.37 L882.60,121.34 L883.74,122.32 L884.88,123.30 L886.01,124.27 L887.15,125.25 L888.29,126.23 L889.43,127.21 L890.56,128.19 L891.70,129.17 L892.84,130.14 L893.97,131.12 L895.11,132.10 L896.25,133.08 L897.38,134.06 L898.52,135.04 L899.65,136.02 L900.79,137.00 L901.92,137.98 L903.06,138.96 L904.19,139.94 L905.33,140.92 L906.47,141.90 L907.60,142.88 L908.74,143.86 L909.87,144.84 L911.01,145.82 L912.14,146.80 L913.28,147.78 L914.41,148.76 L915.55,149.74 L916.69,150.72 L917.82,151.70 L918.96,152.68 L920.10,153.66 L921.23,154.64 L922.37,155.62 L923.51,156.59 L924.65,157.57 L925.78,158.55 L926.92,159.53 L928.06,160.50 L929.20,161.48 L930.34,162.45 L931.48,163.43 L932.62,164.40 L933.76,165.37 L934.90,166.35 L936.05,167.32 L937.19,168.29 L938.33,169.26 L939.47,170.24 L940.62,171.21 L941.76,172.18 L942.91,173.14 L944.05,174.11 L945.20,175.08 L946.34,176.05 L947.49,177.02 L948.64,177.98 L949.79,178.95 L950.93,179.91 L952.08,180.88 L953.23,181.84 L954.38,182.80 L955.53,183.77 L956.68,184.73 L957.84,185.69 L958.99,186.65 L960.14,187.61 L961.29,188.57 L962.45,189.53 L963.60,190.49 L964.76,191.44 L965.91,192.40 L967.07,193.36 L968.22,194.31 L969.38,195.27 L970.54,196.22 L971.69,197.18 L972.85,198.13 L974.01,199.08 L975.17,200.03 L976.33,200.98 L977.49,201.94 L978.65,202.88 L979.81,203.83 L980.98,204.78 L982.14,205.73 L983.30,206.68 L984.47,207.62 L985.63,208.57 L986.80,209.51 L987.96,210.46 L989.13,211.40 L990.29,212.34 L991.46,213.29 L992.63,214.23 L993.80,215.17 L994.97,216.11 L996.14,217.05 L997.31,217.98 L998.48,218.92 L999.65,219.86 L1000.82,220.79 L1001.99,221.73 L1003.17,222.66 L1004.34,223.60 L1005.52,224.53 L1006.69,225.46 L1007.87,226.40 L1009.04,227.33 L1010.22,228.26 L1011.40,229.19 L1012.58,230.11 L1013.75,231.04 L1014.93,231.97 L1016.11,232.89 L1017.29,233.82 L1018.48,234.74 L1019.66,235.67 L1020.84,236.59 L1022.02,237.51 L1023.21,238.43 L1024.39,239.35 L1025.58,240.27 L1026.76,241.19 L1027.95,242.11 L1029.13,243.03 L1030.32,243.94 L1031.51,244.86 L1032.70,245.77 L1033.89,246.69 L1035.08,247.60 L1036.27,248.51 L1037.46,249.42 L1038.65,250.33 L1039.85,251.24 L1041.04,252.15 L1042.23,253.06 L1043.43,253.97 L1044.63,254.87 L1045.82,255.78 L1047.02,256.68 L1048.22,257.58 L1049.41,258.49 L1050.61,259.39 L1051.81,260.29 L1053.01,261.19 L1054.21,262.09 L1055.42,262.98 L1056.62,263.88 L1057.82,264.78 L1059.03,265.67 L1060.23,266.57 L1061.43,267.46 L1062.64,268.35 L1063.85,269.24 L1065.05,270.13 L1066.26,271.02 L1067.47,271.91 L1068.68,272.80 L1069.89,273.68 L1071.10,274.57 L1072.31,275.45 L1073.53,276.34 L1074.74,277.22 L1075.95,278.10 L1077.17,278.98 L1078.38,279.86 L1079.60,280.74 L1080.81,281.62 L1082.03,282.49 L1083.25,283.37 L1084.47,284.24 L1085.69,285.12 L1086.91,285.99 L1088.13,286.86 L1089.35,287.73 L1090.57,288.60 L1091.80,289.47 L1093.02,290.34 L1094.24,291.20 L1095.47,292.07 L1096.70,292.93 L1097.92,293.79 L1099.15,294.66 L1100.38,295.52 L1101.61,296.38 L1102.84,297.23 L1104.07,298.09 L1105.30,298.95 L1106.53,299.80 L1107.77,300.66 L1109.00,301.51 L1110.24,302.36 L1111.47,303.21 L1112.71,304.06 L1113.94,304.91 L1115.18,305.76 L1116.42,306.60 L1117.66,307.45 L1118.90,308.29 L1120.14,309.14 L1121.38,309.98 L1122.62,310.82 L1123.87,311.66 L1125.11,312.50 L1126.36,313.33 L1127.60,314.17 L1128.85,315.00 L1130.10,315.84 L1131.34,316.67 L1132.59,317.50 L1133.84,318.33 L1135.09,319.16 L1136.34,319.99 L1137.60,320.81 L1138.85,321.64 L1140.10,322.46 L1141.36,323.28 L1142.61,324.10 L1143.87,324.92 L1145.12,325.74 L1146.38,326.56 L1147.64,327.38 L1148.90,328.19 L1150.16,329.00 L1151.42,329.82 L1152.68,330.63 L1153.95,331.44 L1155.21,332.25 L1156.47,333.05 L1157.74,333.86 L1159.00,334.66 L1160.27,335.47 L1161.54,336.27 L1162.81,337.07 L1164.08,337.87 L1165.35,338.67 L1166.62,339.46 L1167.89,340.26 L1169.16,341.05 L1170.44,341.84 L1171.71,342.63 L1172.99,343.42 L1174.26,344.21 L1175.54,345.00 L1176.82,345.79 L1178.10,346.57 L1179.38,347.35 L1180.66,348.13 L1181.94,348.91 L1183.22,349.69 L1184.50,350.47 L1185.79,351.25 L1187.07,352.02 L1188.36,352.79 L1189.64,353.56 L1190.93,354.33 L1192.22,355.10 L1193.51,355.87 L1194.80,356.63 L1196.09,357.40 L1197.38,358.16 L1198.67,358.92 L1199.97,359.68 L1201.26,360.44 L1202.56,361.20 L1203.85,361.95 L1205.02,362.63" stroke="#00B050" stroke-dasharray="20.5 7.5"/>
<path d="M210.01,696.31 L211.45,695.90 L212.89,695.48 L214.33,695.06 L215.77,694.64 L217.21,694.22 L218.65,693.79 L220.09,693.37 L221.53,692.94 L222.96,692.50 L224.40,692.07 L225.83,691.63 L227.27,691.19 L228.70,690.75 L230.13,690.31 L231.57,689.86 L233.00,689.41 L234.43,688.97 L235.86,688.51 L237.29,688.06 L238.72,687.60 L240.15,687.15 L241.57,686.69 L243.00,686.22 L244.43,685.76 L245.85,685.30 L247.28,684.83 L248.70,684.36 L250.13,683.89 L251.55,683.41 L252.97,682.94 L254.40,682.46 L255.82,681.98 L257.24,681.50 L258.66,681.02 L260.08,680.54 L261.50,680.05 L262.92,679.57 L264.33,679.08 L265.75,678.59 L267.17,678.10 L268.59,677.60 L270.00,677.11 L271.42,676.61 L272.83,676.11 L274.25,675.61 L275.66,675.11 L277.07,674.61 L278.49,674.11 L279.90,673.60 L281.31,673.09 L282.72,672.59 L284.13,672.08 L285.54,671.57 L286.95,671.05 L288.36,670.54 L289.77,670.03 L291.18,669.51 L292.59,668.99 L294.00,668.47 L295.40,667.96 L296.81,667.43 L298.22,666.91 L299.62,666.39 L301.03,665.87 L302.43,665.34 L303.84,664.81 L305.24,664.29 L306.64,663.76 L308.05,663.23 L309.45,662.70 L310.85,662.17 L312.26,661.63 L313.66,661.10 L315.06,660.57 L316.46,660.03 L317.86,659.49 L319.26,658.96 L320.66,658.42 L322.06,657.88 L323.46,657.34 L324.86,656.80 L326.26,656.26 L327.66,655.72 L329.06,655.18 L330.46,654.63 L331.85,654.09 L333.25,653.55 L334.65,653.00 L336.05,652.45 L337.44,651.91 L338.84,651.36 L340.24,650.81 L341.63,650.27 L343.03,649.72 L344.43,649.17 L345.82,648.62 L347.22,648.07 L348.61,647.52 L350.01,646.97 L351.40,646.42 L352.80,645.87 L354.19,645.31 L355.59,644.76 L356.98,644.21 L358.38,643.66 L359.77,643.10 L361.16,642.55 L362.56,642.00 L363.95,641.44 L365.35,640.89 L366.74,640.33 L368.13,639.78 L369.53,639.22 L370.92,638.67 L372.32,638.12 L373.71,637.56 L375.10,637.01 L376.50,636.45 L377.89,635.90 L379.28,635.34 L380.68,634.79 L382.07,634.23 L383.46,633.68 L384.86,633.12 L386.25,632.57 L387.64,632.01 L389.04,631.46 L390.43,630.90 L391.83,630.35 L393.22,629.79 L394.61,629.24 L396.01,628.69 L397.40,628.13 L398.80,627.58 L400.19,627.03 L401.59,626.48 L402.98,625.92 L404.38,625.37 L405.77,624.82 L407.17,624.27 L408.56,623.72 L409.96,623.17 L411.35,622.62 L412.75,622.07 L414.14,621.52 L415.54,620.97 L416.94,620.42 L418.33,619.88 L419.73,619.33 L421.13,618.78 L422.52,618.24 L423.92,617.69 L425.32,617.15 L426.72,616.61 L428.12,616.06 L429.51,615.52 L430.91,614.98 L432.31,614.44 L433.71,613.90 L435.11,613.36 L436.51,612.82 L437.91,612.29 L439.31,611.75 L440.71,611.21 L442.12,610.68 L443.52,610.14 L444.92,609.61 L446.32,609.08 L447.73,608.55 L449.13,608.02 L450.53,607.49 L451.94,606.96 L453.34,606.43 L454.74,605.91 L456.15,605.38 L457.56,604.86 L458.96,604.34 L460.37,603.82 L461.78,603.30 L463.18,602.78 L464.59,602.26 L466.00,601.74 L467.41,601.23 L468.82,600.71 L470.23,600.20 L471.64,599.69 L473.05,599.18 L474.46,598.67 L475.87,598.16 L477.28,597.66 L478.69,597.15 L480.11,596.65 L481.52,596.15 L482.93,595.65 L484.35,595.15 L485.76,594.65 L487.18,594.16 L488.60,593.66 L490.01,593.17 L491.43,592.68 L492.85,592.19 L494.27,591.70 L495.69,591.21 L497.11,590.73 L498.53,590.25 L499.95,589.77 L501.37,589.29 L502.79,588.81 L504.21,588.33 L505.64,587.86 L507.06,587.39 L508.48,586.92 L509.91,586.45 L511.34,585.98 L512.76,585.52 L514.19,585.06 L515.62,584.60 L517.04,584.14 L518.47,583.68 L519.90,583.23 L521.33,582.77 L522.76,582.32 L524.20,581.88 L525.63,581.43 L527.06,580.99 L528.49,580.54 L529.93,580.10 L531.36,579.67 L532.80,579.23 L534.23,578.80 L535.67,578.37 L537.11,577.94 L538.55,577.51 L539.98,577.09 L541.42,576.67 L542.86,576.25 L544.31,575.83 L545.75,575.41 L547.19,575.00 L548.63,574.59 L550.08,574.18 L551.52,573.78 L552.96,573.38 L554.41,572.98 L555.86,572.58 L557.30,572.18 L558.75,571.79 L560.20,571.40 L561.65,571.02 L563.10,570.63 L564.55,570.25 L566.00,569.87 L567.45,569.49 L568.91,569.12 L570.36,568.75 L571.81,568.38 L573.27,568.02 L574.72,567.65 L576.18,567.29 L577.64,566.94 L579.09,566.58 L580.55,566.23 L582.01,565.88 L583.47,565.54 L584.93,565.19 L586.39,564.85 L587.85,564.52 L589.32,564.18 L590.78,563.85 L592.24,563.52 L593.71,563.20 L595.17,562.88 L596.64,562.56 L598.10,562.24 L599.57,561.93 L601.04,561.61 L602.51,561.30 L603.97,560.99 L605.44,560.67 L606.91,560.36 L608.37,560.04 L609.84,559.73 L611.30,559.41 L612.77,559.09 L614.23,558.76 L615.70,558.43 L617.16,558.10 L618.62,557.76 L620.08,557.42 L621.54,557.07 L623.00,556.71 L624.45,556.35 L625.91,555.98 L627.36,555.60 L628.81,555.22 L630.25,554.82 L631.70,554.42 L633.14,554.00 L634.58,553.58 L636.02,553.15 L637.45,552.70 L638.88,552.24 L640.30,551.77 L641.72,551.29 L643.14,550.79 L644.55,550.28 L645.95,549.76 L647.35,549.22 L648.75,548.66 L650.13,548.09 L651.51,547.51 L652.89,546.91 L654.25,546.29 L655.61,545.65 L656.96,545.00 L658.30,544.33 L659.64,543.64 L660.96,542.93 L662.27,542.20 L663.57,541.46 L664.86,540.69 L666.14,539.91 L667.41,539.10 L668.66,538.27 L669.90,537.43 L671.12,536.56 L672.33,535.67 L673.52,534.76 L674.69,533.82 L675.84,532.86 L676.98,531.88 L678.09,530.87 L679.18,529.85 L680.25,528.79 L681.29,527.71 L682.31,526.61 L683.30,525.48 L684.26,524.33 L685.19,523.15 L686.08,521.95 L686.95,520.72 L687.77,519.47 L688.57,518.20 L689.32,516.91 L690.05,515.59 L690.74,514.26 L691.40,512.91 L692.03,511.55 L692.63,510.18 L693.21,508.79 L693.76,507.40 L694.29,506.00 L694.81,504.59 L695.30,503.17 L695.78,501.75 L696.24,500.32 L696.69,498.89 L697.13,497.46 L697.56,496.02 L697.99,494.58 L698.40,493.14 L698.82,491.70 L699.22,490.26 L699.63,488.81 L700.02,487.36 L700.42,485.92 L700.81,484.47 L701.19,483.02 L701.57,481.57 L701.94,480.11 L702.31,478.66 L702.68,477.21 L703.04,475.75 L703.40,474.29 L703.75,472.84 L704.10,471.38 L704.44,469.92 L704.78,468.46 L705.12,466.99 L705.45,465.53 L705.78,464.07 L706.10,462.60 L706.42,461.14 L706.74,459.67 L707.05,458.20 L707.36,456.73 L707.66,455.27 L707.96,453.80 L708.26,452.33 L708.55,450.86 L708.84,449.38 L709.13,447.91 L709.41,446.44 L709.69,444.96 L709.96,443.49 L710.24,442.01 L710.51,440.54 L710.77,439.06 L711.04,437.59 L711.29,436.11 L711.55,434.63 L711.80,433.15 L712.05,431.67 L712.30,430.19 L712.55,428.71 L712.79,427.23 L713.03,425.75 L713.26,424.27 L713.50,422.79 L713.73,421.31 L713.96,419.82 L714.18,418.34 L714.40,416.86 L714.62,415.37 L714.84,413.89 L715.06,412.41 L715.27,410.92 L715.48,409.44 L715.69,407.95 L715.90,406.47 L716.10,404.98 L716.30,403.49 L716.50,402.01 L716.70,400.52 L716.90,399.03 L717.09,397.55 L717.29,396.06 L717.48,394.57 L717.67,393.08 L717.85,391.59 L718.04,390.10 L718.22,388.62 L718.41,387.13 L718.59,385.64 L718.77,384.15 L718.94,382.66 L719.12,381.17 L719.30,379.68 L719.47,378.19 L719.64,376.70 L719.82,375.21 L719.99,373.72 L720.16,372.23 L720.32,370.74 L720.49,369.25 L720.66,367.76 L720.82,366.27 L720.99,364.78 L721.15,363.29 L721.32,361.79 L721.48,360.30 L721.64,358.81 L721.80,357.32 L721.96,355.83 L722.12,354.34 L722.28,352.85 L722.44,351.35 L722.60,349.86 L722.76,348.37 L722.92,346.88 L723.08,345.39 L723.24,343.90 L723.39,342.41 L723.55,340.91 L723.71,339.42 L723.87,337.93 L724.03,336.44 L724.19,334.95 L724.34,333.46 L724.50,331.96 L724.66,330.47 L724.82,328.98 L724.98,327.49 L725.14,326.00 L725.30,324.51 L725.46,323.02 L725.62,321.52 L725.79,320.03 L725.95,318.54 L726.11,317.05 L726.28,315.56 L726.44,314.07 L726.61,312.58 L726.78,311.09 L726.95,309.60 L727.12,308.11 L727.29,306.62 L727.46,305.13 L727.63,303.64 L727.80,302.15 L727.98,300.66 L728.16,299.17 L728.33,297.68 L728.51,296.19 L728.69,294.70 L728.88,293.21 L729.06,291.72 L729.25,290.23 L729.43,288.75 L729.62,287.26 L729.81,285.77 L730.01,284.28 L730.20,282.79 L730.40,281.31 L730.59,279.82 L730.79,278.33 L730.99,276.85 L731.19,275.36 L731.40,273.87 L731.60,272.39 L731.81,270.90 L732.02,269.42 L732.22,267.93 L732.44,266.45 L732.65,264.96 L732.86,263.48 L733.08,261.99 L733.29,260.51 L733.51,259.02 L733.73,257.54 L733.95,256.06 L734.17,254.57 L734.39,253.09 L734.62,251.61 L734.84,250.12 L735.07,248.64 L735.30,247.16 L735.53,245.68 L735.76,244.19 L735.99,242.71 L736.22,241.23 L736.45,239.75 L736.69,238.27 L736.92,236.78 L737.16,235.30 L737.40,233.82 L737.64,232.34 L737.88,230.86 L738.12,229.38 L738.36,227.90 L738.60,226.42 L738.85,224.94 L739.09,223.46 L739.34,221.98 L739.58,220.50 L739.83,219.02 L740.08,217.54 L740.33,216.06 L740.58,214.58 L740.83,213.10 L741.08,211.63 L741.33,210.15 L741.59,208.67 L741.84,207.19 L742.10,205.71 L742.35,204.23 L742.61,202.76 L742.86,201.28 L743.12,199.80 L743.38,198.32 L743.64,196.85 L743.90,195.37 L744.16,193.89 L744.42,192.41 L744.68,190.94 L744.94,189.46 L745.20,187.98 L745.46,186.50 L745.72,185.03 L745.99,183.55 L746.25,182.07 L746.51,180.60 L746.78,179.12 L747.04,177.64 L747.31,176.17 L747.57,174.69 L747.84,173.22 L748.10,171.74 L748.37,170.26 L748.64,168.79 L748.90,167.31 L749.17,165.83 L749.44,164.36 L749.70,162.88 L749.97,161.41 L750.24,159.93 L750.51,158.45 L750.77,156.98 L751.04,155.50 L751.31,154.03 L751.58,152.55 L751.85,151.08 L752.12,149.60 L752.38,148.12 L752.66,146.65 L752.93,145.17 L753.20,143.70 L753.48,142.23 L753.77,140.75 L754.06,139.28 L754.35,137.81 L754.65,136.34 L754.96,134.87 L755.28,133.41 L755.60,131.94 L755.94,130.48 L756.29,129.02 L756.64,127.56 L757.02,126.11 L757.40,124.66 L757.80,123.22 L758.21,121.77 L758.64,120.34 L759.09,118.90 L759.55,117.48 L760.04,116.06 L760.54,114.65 L761.07,113.24 L761.62,111.84 L762.19,110.46 L762.78,109.08 L763.41,107.72 L764.06,106.37 L764.73,105.03 L765.44,103.70 L766.18,102.40 L766.94,101.11 L767.74,99.84 L768.57,98.59 L769.44,97.36 L770.34,96.16 L771.27,94.99 L772.24,93.84 L773.24,92.72 L774.27,91.64 L775.34,90.59 L776.44,89.57 L777.58,88.59 L778.74,87.64 L779.94,86.74 L781.16,85.87 L782.42,85.05 L783.70,84.27 L785.01,83.54 L786.34,82.85 L787.70,82.22 L789.09,81.64 L790.49,81.11 L791.91,80.64 L793.36,80.23 L794.82,79.88 L796.29,79.60 L797.77,79.38 L799.26,79.23 L800.76,79.15 L802.26,79.13 L803.76,79.18 L805.26,79.28 L806.75,79.43 L808.24,79.63 L809.72,79.87 L811.19,80.15 L812.66,80.47 L814.12,80.81 L815.57,81.18 L817.02,81.58 L818.46,81.99 L819.89,82.43 L821.32,82.88 L822.75,83.35 L824.17,83.84 L825.58,84.35 L826.98,84.87 L828.38,85.42 L829.77,85.97 L831.16,86.55 L832.54,87.14 L833.91,87.74 L835.28,88.36 L836.64,89.00 L837.99,89.65 L839.33,90.31 L840.67,90.99 L842.00,91.68 L843.33,92.38 L844.65,93.10 L845.96,93.83 L847.26,94.57 L848.56,95.32 L849.85,96.09 L851.13,96.87 L852.41,97.65 L853.68,98.45 L854.94,99.26 L856.20,100.07 L857.45,100.90 L858.70,101.73 L859.94,102.58 L861.18,103.43 L862.40,104.29 L863.63,105.15 L864.85,106.03 L866.06,106.91 L867.27,107.80 L868.47,108.70 L869.67,109.60 L870.87,110.50 L872.06,111.42 L873.24,112.34 L874.42,113.26 L875.60,114.19 L876.78,115.12 L877.95,116.06 L879.12,117.00 L880.28,117.94 L881.44,118.89 L882.60,119.84 L883.76,120.80 L884.91,121.76 L886.07,122.72 L887.22,123.68 L888.36,124.64 L889.51,125.61 L890.66,126.58 L891.80,127.55 L892.94,128.52 L894.09,129.49 L895.23,130.46 L896.37,131.44 L897.51,132.41 L898.65,133.38 L899.79,134.36 L900.94,135.33 L902.08,136.30 L903.22,137.27 L904.36,138.25 L905.51,139.22 L906.65,140.19 L907.79,141.16 L908.94,142.13 L910.08,143.10 L911.23,144.07 L912.37,145.03 L913.52,146.00 L914.67,146.97 L915.81,147.94 L916.96,148.90 L918.11,149.87 L919.25,150.84 L920.40,151.80 L921.55,152.77 L922.70,153.73 L923.85,154.70 L925.00,155.66 L926.15,156.62 L927.30,157.58 L928.45,158.55 L929.60,159.51 L930.75,160.47 L931.91,161.43 L933.06,162.39 L934.21,163.35 L935.36,164.31 L936.52,165.27 L937.67,166.22 L938.83,167.18 L939.98,168.14 L941.14,169.09 L942.30,170.05 L943.45,171.00 L944.61,171.96 L945.77,172.91 L946.92,173.87 L948.08,174.82 L949.24,175.77 L950.40,176.72 L951.56,177.67 L952.72,178.62 L953.88,179.57 L955.04,180.52 L956.21,181.47 L957.37,182.42 L958.53,183.37 L959.69,184.32 L960.86,185.26 L962.02,186.21 L963.19,187.15 L964.35,188.10 L965.52,189.04 L966.68,189.98 L967.85,190.93 L969.02,191.87 L970.19,192.81 L971.36,193.75 L972.52,194.69 L973.69,195.63 L974.86,196.57 L976.03,197.51 L977.21,198.44 L978.38,199.38 L979.55,200.32 L980.72,201.25 L981.90,202.18 L983.07,203.12 L984.24,204.05 L985.42,204.98 L986.59,205.92 L987.77,206.85 L988.95,207.78 L990.13,208.71 L991.30,209.64 L992.48,210.56 L993.66,211.49 L994.84,212.42 L996.02,213.34 L997.20,214.27 L998.38,215.19 L999.56,216.12 L1000.75,217.04 L1001.93,217.96 L1003.11,218.88 L1004.30,219.80 L1005.48,220.72 L1006.67,221.64 L1007.85,222.56 L1009.04,223.48 L1010.23,224.39 L1011.42,225.31 L1012.61,226.22 L1013.79,227.14 L1014.98,228.05 L1016.18,228.96 L1017.37,229.88 L1018.56,230.79 L1019.75,231.70 L1020.94,232.61 L1022.14,233.51 L1023.33,234.42 L1024.53,235.33 L1025.72,236.23 L1026.92,237.14 L1028.12,238.04 L1029.31,238.95 L1030.51,239.85 L1031.71,240.75 L1032.91,241.65 L1034.11,242.55 L1035.31,243.45 L1036.51,244.35 L1037.71,245.24 L1038.92,246.14 L1040.12,247.04 L1041.33,247.93 L1042.53,248.82 L1043.74,249.72 L1044.94,250.61 L1046.15,251.50 L1047.36,252.39 L1048.57,253.28 L1049.77,254.16 L1050.98,255.05 L1052.20,255.94 L1053.41,256.82 L1054.62,257.70 L1055.83,258.59 L1057.04,259.47 L1058.26,260.35 L1059.47,261.23 L1060.69,262.11 L1061.90,262.99 L1063.12,263.86 L1064.34,264.74 L1065.56,265.62 L1066.78,266.49 L1068.00,267.36 L1069.22,268.24 L1070.44,269.11 L1071.66,269.98 L1072.88,270.85 L1074.11,271.71 L1075.33,272.58 L1076.55,273.45 L1077.78,274.31 L1079.01,275.17 L1080.23,276.04 L1081.46,276.90 L1082.69,277.76 L1083.92,278.62 L1085.15,279.48 L1086.38,280.33 L1087.61,281.19 L1088.84,282.05 L1090.08,282.90 L1091.31,283.75 L1092.55,284.61 L1093.78,285.46 L1095.02,286.31 L1096.25,287.15 L1097.49,288.00 L1098.73,288.85 L1099.97,289.69 L1101.21,290.54 L1102.45,291.38 L1103.69,292.22 L1104.93,293.06 L1106.18,293.90 L1107.42,294.74 L1108.66,295.58 L1109.91,296.42 L1111.16,297.25 L1112.40,298.08 L1113.65,298.92 L1114.90,299.75 L1116.15,300.58 L1117.40,301.41 L1118.65,302.24 L1119.90,303.06 L1121.15,303.89 L1122.41,304.71 L1123.66,305.54 L1124.91,306.36 L1126.17,307.18 L1127.43,308.00 L1128.68,308.82 L1129.94,309.63 L1131.20,310.45 L1132.46,311.26 L1133.72,312.08 L1134.98,312.89 L1136.24,313.70 L1137.51,314.51 L1138.77,315.32 L1140.03,316.13 L1141.30,316.93 L1142.56,317.74 L1143.83,318.54 L1145.10,319.34 L1146.37,320.14 L1147.64,320.94 L1148.91,321.74 L1150.18,322.54 L1151.45,323.33 L1152.72,324.13 L1153.99,324.92 L1155.27,325.71 L1156.54,326.50 L1157.82,327.29 L1159.09,328.08 L1160.37,328.87 L1161.65,329.65 L1162.93,330.44 L1164.21,331.22 L1165.49,332.00 L1166.77,332.78 L1168.05,333.56 L1169.33,334.34 L1170.62,335.11 L1171.90,335.89 L1173.19,336.66 L1174.47,337.43 L1175.76,338.20 L1177.05,338.97 L1178.34,339.74 L1179.63,340.51 L1180.92,341.27 L1182.21,342.03 L1183.50,342.80 L1184.79,343.56 L1186.09,344.32 L1187.38,345.08 L1188.68,345.83 L1189.97,346.59 L1191.27,347.34 L1192.57,348.09 L1193.86,348.85 L1195.16,349.60 L1196.46,350.34 L1197.76,351.09 L1199.07,351.84 L1200.37,352.58 L1201.67,353.32 L1202.98,354.06 L1204.28,354.80 L1205.59,355.54 L1205.60,355.55" stroke="#0000CC" stroke-dasharray="19.5 8 2.5 8"/>
</g>
<g stroke="#000" stroke-width="2.6" fill="none">
<rect x="153.9" y="16.6" width="1041.1" height="673.6999999999999"/>
<line x1="153.90" y1="606.09" x2="161.50" y2="606.09"/>
<line x1="153.90" y1="521.88" x2="164.50" y2="521.88"/>
<line x1="153.90" y1="437.66" x2="161.50" y2="437.66"/>
<line x1="153.90" y1="353.45" x2="164.50" y2="353.45"/>
<line x1="153.90" y1="269.24" x2="161.50" y2="269.24"/>
<line x1="153.90" y1="185.03" x2="164.50" y2="185.03"/>
<line x1="153.90" y1="100.81" x2="161.50" y2="100.81"/>
<line x1="240.66" y1="690.30" x2="240.66" y2="683.00"/>
<line x1="327.42" y1="690.30" x2="327.42" y2="680.00"/>
<line x1="414.17" y1="690.30" x2="414.17" y2="683.00"/>
<line x1="500.93" y1="690.30" x2="500.93" y2="680.00"/>
<line x1="587.69" y1="690.30" x2="587.69" y2="683.00"/>
<line x1="674.45" y1="690.30" x2="674.45" y2="680.00"/>
<line x1="761.21" y1="690.30" x2="761.21" y2="683.00"/>
<line x1="847.97" y1="690.30" x2="847.97" y2="680.00"/>
<line x1="934.72" y1="690.30" x2="934.72" y2="683.00"/>
<line x1="1021.48" y1="690.30" x2="1021.48" y2="680.00"/>
<line x1="1108.24" y1="690.30" x2="1108.24" y2="683.00"/>
</g>
<g>
<text transform="translate(124.3,701.60) scale(1,1.045)" text-anchor="end">600</text>
<text transform="translate(125.1,531.97) scale(1,1.045)" text-anchor="end">800</text>
<text transform="translate(125.8,363.25) scale(1,1.045)" text-anchor="end">1000</text>
<text transform="translate(125.8,194.83) scale(1,1.045)" text-anchor="end">1200</text>
<text transform="translate(125.8,26.40) scale(1,1.045)" text-anchor="end">1400</text>
<text transform="translate(153.90,742.7) scale(1,1.045)" text-anchor="middle">300</text>
<text transform="translate(327.42,742.7) scale(1,1.045)" text-anchor="middle">320</text>
<text transform="translate(500.93,742.7) scale(1,1.045)" text-anchor="middle">340</text>
<text transform="translate(674.45,742.7) scale(1,1.045)" text-anchor="middle">360</text>
<text transform="translate(847.97,742.7) scale(1,1.045)" text-anchor="middle">380</text>
<text transform="translate(1021.48,742.7) scale(1,1.045)" text-anchor="middle">400</text>
<text transform="translate(1195.00,742.7) scale(1,1.045)" text-anchor="middle">420</text>
<text transform="translate(677,797) scale(1,1.045)" text-anchor="middle">CAD</text>
<text transform="translate(28,356.4) rotate(-90) scale(1,1.045)" text-anchor="middle">Temperature (K)</text>
</g>
<g fill="none" stroke-width="2.6">

<text transform="translate(651,594.6) scale(1,1.045)" letter-spacing="-0.13">Second injection fuel mass share</text>
<line x1="648.8" y1="637.2" x2="693.0" y2="637.2" stroke="#000"/>
<text transform="translate(696.5,647) scale(1,1.045)">0</text>
<line x1="745.9" y1="637.2" x2="791" y2="637.2" stroke="#FF0000" stroke-dasharray="10 8"/>
<text transform="translate(793.5,647) scale(1,1.045)">25%</text>
<line x1="892.4" y1="637.2" x2="938.4" y2="637.2" stroke="#00B050" stroke-dasharray="20.5 7.5"/>
<text transform="translate(941,647) scale(1,1.045)">50%</text>
<line x1="1040.1" y1="637.2" x2="1084.7" y2="637.2" stroke="#0000CC" stroke-dasharray="19.5 8 2.5 8"/>
<text transform="translate(1086.5,647) scale(1,1.045)">75%</text>

</g>
</svg>
</body></html>
